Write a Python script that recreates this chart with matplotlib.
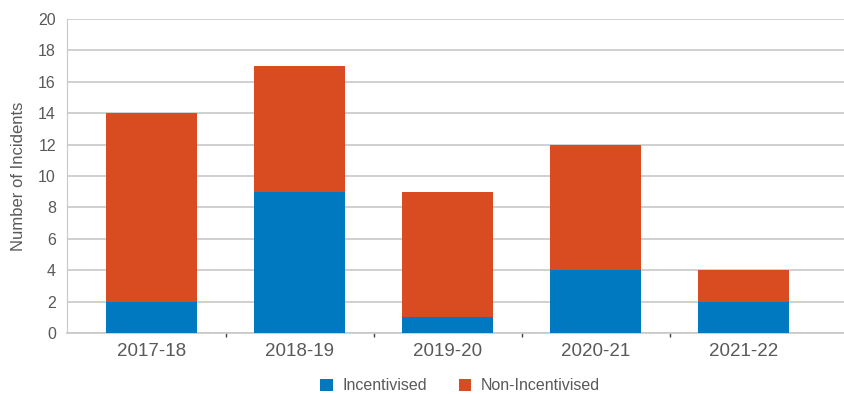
import matplotlib
matplotlib.use('Agg')
import matplotlib.pyplot as plt
import numpy as np

years = ['2017-18', '2018-19', '2019-20', '2020-21', '2021-22']
incentivised = [2, 9, 1, 4, 2]
non_incentivised = [12, 8, 8, 8, 2]

blue = '#0079c1'
orange = '#d94b20'
text_col = '#595959'

plt.rcParams['font.family'] = ['Liberation Sans', 'DejaVu Sans']

fig = plt.figure(figsize=(8.44, 3.94), dpi=100)
ax = fig.add_axes([67 / 844, 61 / 394, 777 / 844, 314 / 394])

x = np.arange(len(years))
ax.bar(x, incentivised, width=0.615, color=blue, label='Incentivised', zorder=3)
ax.bar(x, non_incentivised, width=0.615, bottom=incentivised, color=orange,
       label='Non-Incentivised', zorder=3)

ax.set_xlim(-0.571, 4.679)
ax.set_ylim(0, 20)
ax.set_yticks(range(0, 21, 2))
ax.yaxis.grid(True, color='#c8c8c8', linewidth=1.2, zorder=0)
ax.set_axisbelow(True)

# category labels centred, small tick marks between categories
ax.set_xticks(x)
ax.set_xticklabels(years, fontsize=13.5, color=text_col)
ax.tick_params(axis='x', length=0, pad=7)
ax.set_xticks(x[:-1] + 0.5, minor=True)
ax.tick_params(axis='x', which='minor', length=3, width=1, color='#404040')
ax.tick_params(axis='y', length=0, labelsize=11.5, labelcolor=text_col, pad=8)

for side in ['top', 'right']:
    ax.spines[side].set_visible(False)
ax.spines['left'].set_color('#c8c8c8')
ax.spines['bottom'].set_color('#c8c8c8')
ax.spines['bottom'].set_linewidth(1.2)

ax.set_ylabel('Number of Incidents', fontsize=12, color=text_col, labelpad=9)

leg = fig.legend(loc='lower center', bbox_to_anchor=(0.545, -0.035), ncol=2,
                 frameon=False, fontsize=11.5, handlelength=0.8, handleheight=0.8,
                 columnspacing=2.0, handletextpad=0.6)
for t in leg.get_texts():
    t.set_color(text_col)

fig.savefig('out.png', dpi=100)
